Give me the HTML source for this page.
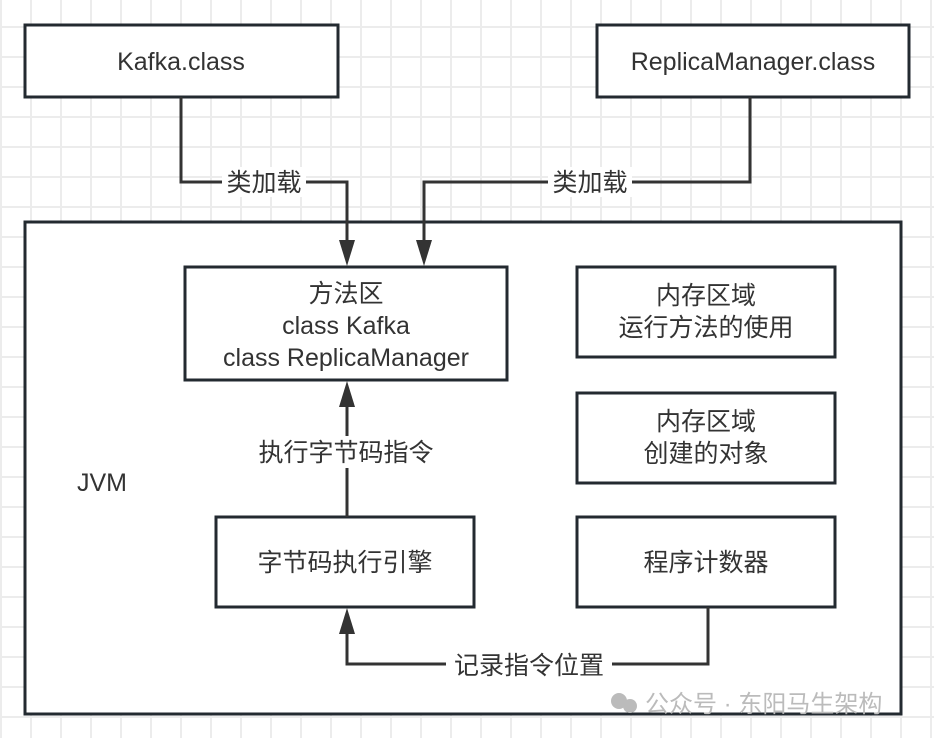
<!DOCTYPE html>
<html><head><meta charset="utf-8"><style>
html,body{margin:0;padding:0}
body{width:934px;height:738px;overflow:hidden;background:#fff;
background-image:linear-gradient(#ececec 2px,transparent 2px),linear-gradient(90deg,#ececec 2px,transparent 2px);
background-size:30px 30px;background-position:0 26px,60px 0;}
svg text{font-family:"Liberation Sans","Noto Sans CJK SC",sans-serif;font-size:25px;fill:#333;}
</style></head><body>
<svg width="934" height="738" viewBox="0 0 934 738" style="position:absolute;left:0;top:0">
<g fill="#fff" stroke="#232a30" stroke-width="3">
<rect x="25" y="25" width="313" height="72"/>
<rect x="597" y="25" width="312" height="72"/>
<rect x="25" y="222" width="876" height="492"/>
<rect x="185" y="267" width="322" height="113"/>
<rect x="577" y="267" width="258" height="90"/>
<rect x="577" y="393" width="258" height="90"/>
<rect x="216" y="517" width="258" height="90"/>
<rect x="577" y="517" width="258" height="90"/>
</g>
<g fill="none" stroke="#333" stroke-width="3">
<path d="M181,97 V182 H347 V245"/>
<path d="M750,97 V182 H424 V245"/>
<path d="M347,517 V400"/>
<path d="M708,607 V664 H347 V627"/>
</g>
<g fill="#333">
<path d="M339,240 H355 L347,266z"/>
<path d="M416,240 H432 L424,266z"/>
<path d="M339,407 H355 L347,381z"/>
<path d="M339,634 H355 L347,608z"/>
</g>
<g fill="#fff">
<rect x="222" y="167" width="84" height="30"/>
<rect x="548" y="167" width="84" height="30"/>
<rect x="250" y="436" width="194" height="32"/>
<rect x="446" y="649" width="166" height="30"/>
</g>
<g text-anchor="middle">
<text x="181" y="70">Kafka.class</text>
<text x="753" y="70">ReplicaManager.class</text>
<text x="264" y="191">类加载</text>
<text x="590" y="191">类加载</text>
<text x="346" y="302">方法区</text>
<text x="346" y="334">class Kafka</text>
<text x="346" y="366">class ReplicaManager</text>
<text x="706" y="304">内存区域</text>
<text x="706" y="336">运行方法的使用</text>
<text x="706" y="430">内存区域</text>
<text x="706" y="462">创建的对象</text>
<text x="346" y="461">执行字节码指令</text>
<text x="345" y="571">字节码执行引擎</text>
<text x="706" y="571">程序计数器</text>
<text x="529" y="674">记录指令位置</text>
</g>
<text x="77" y="491">JVM</text>
<g fill="#bbb"><circle cx="619" cy="701" r="8"/><circle cx="630" cy="706" r="7"/></g>
<text x="645" y="712" style="fill:#bbb;font-size:24px">公众号 · 东阳马生架构</text>
</svg>
</body></html>
